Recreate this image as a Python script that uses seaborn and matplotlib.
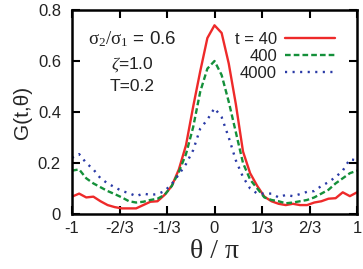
import numpy as np
import pandas as pd
import matplotlib
matplotlib.use("Agg")
import matplotlib.pyplot as plt
import seaborn as sns

# theta / pi grid
theta = [-1.00, -0.95, -0.90, -0.85, -0.80, -0.75, -0.70, -0.65, -0.60, -0.55,
         -0.50, -0.45, -0.40, -0.35, -0.30, -0.25, -0.20, -0.15, -0.10, -0.05,
         0.00, 0.05, 0.10, 0.15, 0.20, 0.25, 0.30, 0.35, 0.40, 0.45,
         0.50, 0.55, 0.60, 0.65, 0.70, 0.75, 0.80, 0.85, 0.90, 0.95, 1.00]

g_t40 = [0.068, 0.080, 0.065, 0.068, 0.050, 0.035, 0.027, 0.022, 0.022, 0.022,
         0.035, 0.048, 0.050, 0.075, 0.110, 0.175, 0.270, 0.420, 0.560, 0.690,
         0.740, 0.710, 0.590, 0.430, 0.245, 0.160, 0.110, 0.068, 0.050, 0.040,
         0.035, 0.040, 0.035, 0.035, 0.045, 0.050, 0.060, 0.062, 0.085, 0.070, 0.085]

g_t400 = [0.170, 0.175, 0.140, 0.120, 0.105, 0.090, 0.078, 0.065, 0.050, 0.045,
          0.048, 0.055, 0.060, 0.075, 0.110, 0.165, 0.235, 0.340, 0.480, 0.570,
          0.600, 0.545, 0.440, 0.320, 0.200, 0.135, 0.100, 0.065, 0.055, 0.050,
          0.042, 0.045, 0.050, 0.055, 0.065, 0.080, 0.095, 0.120, 0.140, 0.160, 0.170]

g_t4000 = [0.220, 0.235, 0.200, 0.175, 0.140, 0.120, 0.105, 0.090, 0.082, 0.070,
           0.080, 0.075, 0.078, 0.090, 0.118, 0.155, 0.196, 0.250, 0.335, 0.370,
           0.415, 0.380, 0.300, 0.210, 0.145, 0.100, 0.080, 0.080, 0.080, 0.065,
           0.075, 0.070, 0.078, 0.087, 0.090, 0.110, 0.125, 0.145, 0.170, 0.215, 0.210]

series_labels = ["t = 40", "400", "4000"]
xtick_vals = [-1, -2/3, -1/3, 0, 1/3, 2/3, 1]
xtick_labels = ["-1", "-2/3", "-1/3", "0", "1/3", "2/3", "1"]
ytick_vals = [0, 0.2, 0.4, 0.6, 0.8]
ytick_labels = ["0", "0.2", "0.4", "0.6", "0.8"]

sns.set_theme(style="ticks")
plt.rcParams["font.family"] = ["Liberation Sans", "DejaVu Sans"]
plt.rcParams["mathtext.fontset"] = "custom"
plt.rcParams["mathtext.rm"] = "Liberation Serif"
plt.rcParams["mathtext.it"] = "Liberation Serif:italic"

fig = plt.figure(figsize=(3.63, 2.69), dpi=100)
ax = fig.add_axes([72/363, 1-214/269, 285/363, 204/269])

colors = ["#ee2a2a", "#14903a", "#2a3aa6"]
styles = ["-", (0, (2.4, 1.3)), (0, (0.9, 2.3))]
for g, lab, c, ls in zip([g_t40, g_t400, g_t4000], series_labels, colors, styles):
    sns.lineplot(x=theta, y=g, ax=ax, color=c, linestyle=ls, lw=1.7, label=lab)

ax.set_xlim(-1, 1)
ax.set_ylim(0, 0.8)
ax.set_xticks(xtick_vals)
ax.set_xticklabels(xtick_labels)
ax.set_yticks(ytick_vals)
ax.set_yticklabels(ytick_labels)
ax.tick_params(direction="in", length=5.5, width=1.5, labelsize=12, colors="black",
               top=True, right=True, pad=5, labelcolor="#222222")
ax.tick_params(axis="y", pad=8)
for s in ax.spines.values():
    s.set_linewidth(1.8)
    s.set_color("black")

ax.set_xlabel("θ / π", fontsize=20, family=["Liberation Serif", "DejaVu Serif"], labelpad=2)
ax.set_ylabel("G(t,θ)", fontsize=15, labelpad=4)

ax.text(0.21, 0.855, r"$\mathrm{\sigma_2/\sigma_1}$ = 0.6", transform=ax.transAxes,
        ha="center", va="center", fontsize=13.5, color="#222222")
ax.text(0.21, 0.735, r"$\zeta$=1.0", transform=ax.transAxes,
        ha="center", va="center", fontsize=12.5, color="#222222")
ax.text(0.21, 0.625, "T=0.2", transform=ax.transAxes,
        ha="center", va="center", fontsize=12.5, color="#222222")

leg = ax.legend(loc="upper right", frameon=False, markerfirst=False, fontsize=12,
                handlelength=3.0, handletextpad=0.5, labelspacing=0.12,
                borderaxespad=1.0, borderpad=0.3)
for t in leg.get_texts():
    t.set_color("#222222")

fig.savefig("out.png", dpi=100)
